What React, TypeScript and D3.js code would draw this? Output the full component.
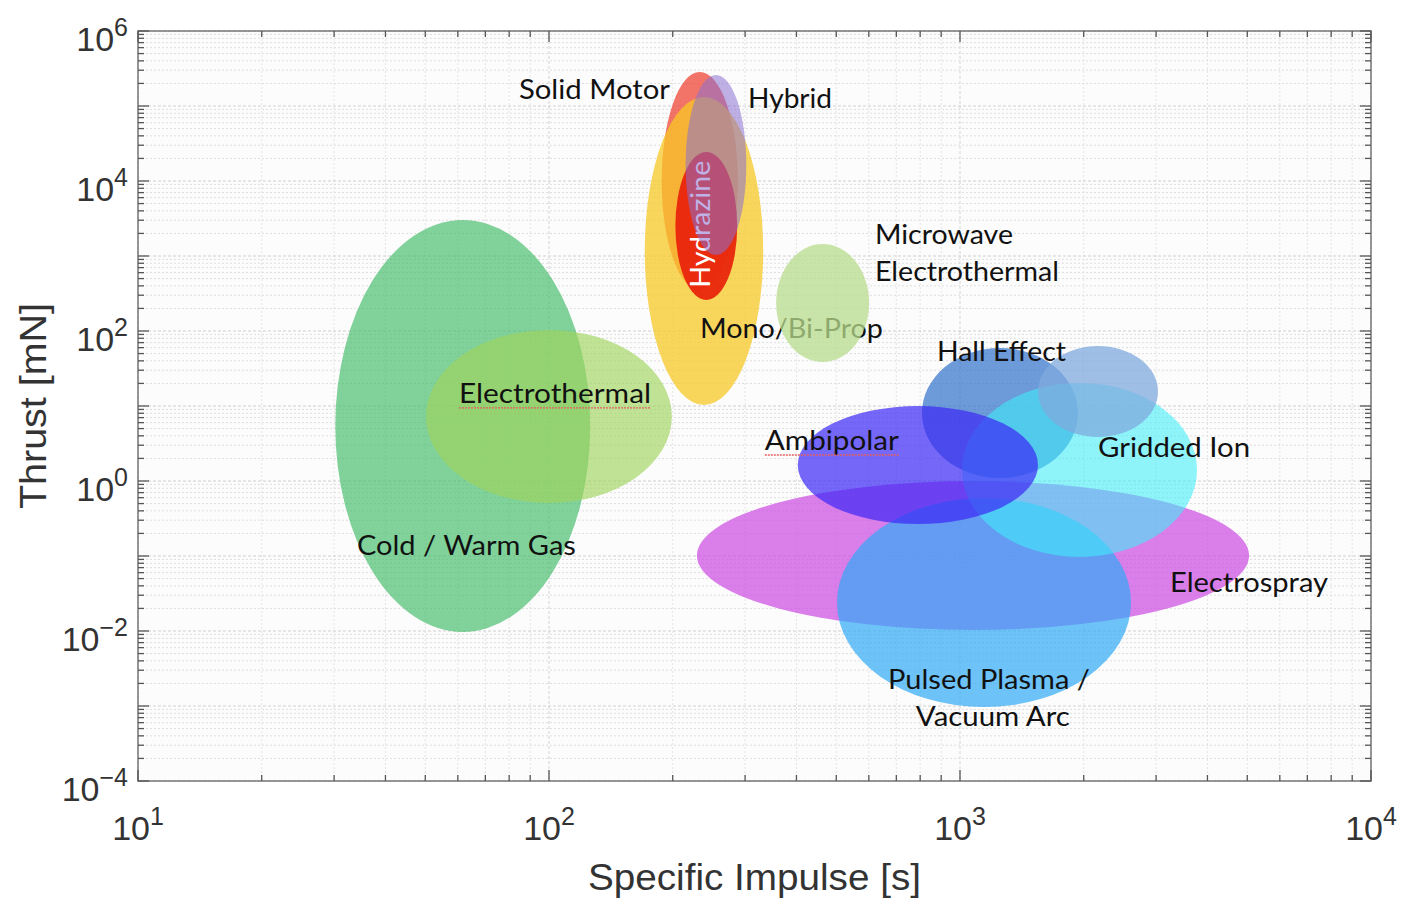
import React from "react";
import * as d3 from "d3";

const W = 1401;
const H = 898;

// Axis domains and tick exponents
const xDomain: [number, number] = [10, 10000];
const yDomain: [number, number] = [1e-4, 1e6];
const xTickExps = [1, 2, 3, 4];
const yTickExps = [-4, -2, 0, 2, 4, 6];

// Thruster regions (draw order), Isp [s] range and Thrust [mN] range
const thrusterNames = [
  "Cold / Warm Gas",
  "Electrothermal",
  "Solid Motor",
  "Mono/Bi-Prop",
  "Hydrazine",
  "Hybrid",
  "Microwave Electrothermal",
  "Electrospray",
  "Pulsed Plasma / Vacuum Arc",
  "Hall Effect",
  "Gridded Ion",
  "Ambipolar",
  "Hall Effect (high power)",
];
const ispMin = [30.2, 50.2, 188, 171, 203, 215, 357, 229, 502, 808, 1011, 403, 1548];
const ispMax = [126, 199, 288, 332, 287, 302, 601, 5050, 2607, 1936, 3773, 1548, 3032];
const thrustMin = [0.0097, 0.509, 352, 10.3, 259, 1031, 38.6, 0.0103, 0.00097, 1.1, 0.097, 0.267, 3.86];
const thrustMax = [3020, 103, 284000, 131800, 24370, 259000, 1445, 1.0, 0.593, 59.3, 20.3, 10, 63];

// Labels: text lines, anchor Isp, anchor thrust (baseline), drawn after region index
const labelTexts = [
  ["Solid Motor"],
  ["Hybrid"],
  ["Microwave", "Electrothermal"],
  ["Mono/Bi-Prop"],
  ["Hall Effect"],
  ["Electrothermal"],
  ["Ambipolar"],
  ["Gridded Ion"],
  ["Cold / Warm Gas"],
  ["Electrospray"],
  ["Pulsed Plasma /", "Vacuum Arc"],
];
const labelIsp = [84.5, 305, 621, 233, 879, 60.4, 335, 2167, 34.1, 3243, 668];
const labelThrust = [124000, 94000, 1445, 80.7, 39.8, 11, 2.59, 2.09, 0.103, 0.0331, 0.001686];
const labelLayer = [99, 99, 99, 5, 99, 99, 99, 99, 99, 99, 99];
const underlined = [false, false, false, false, false, true, true, false, false, false, false];
const secondLineIsp = [0, 0, 621, 0, 0, 0, 0, 0, 0, 0, 781];
const secondLineThrust = [0, 0, 464, 0, 0, 0, 0, 0, 0, 0, 0.000541];

const hydrazineLabel = "Hydrazine";
const hydrazineIsp = 246;
const hydrazineThrust = 2650;

// Styles / layout
const labelWidths = [151, 84, 138, 183, 129, 192, 134, 152, 219, 158, 202];
const secondLineWidths = [0, 0, 184, 0, 0, 0, 0, 0, 0, 0, 154];
const hydrazineWidth = 127;

const fills: Record<string, [string, number]> = {
  "Cold / Warm Gas": ["#3dba66", 0.65],
  "Electrothermal": ["#a0d45c", 0.65],
  "Solid Motor": ["#ee3a2a", 0.7],
  "Mono/Bi-Prop": ["#f7c825", 0.75],
  "Hydrazine": ["#e8200a", 0.92],
  "Hybrid": ["#8a6fd0", 0.55],
  "Microwave Electrothermal": ["#b8dc8c", 0.75],
  "Electrospray": ["#cc48e3", 0.7],
  "Pulsed Plasma / Vacuum Arc": ["#30aaf5", 0.7],
  "Hall Effect": ["#2a6cc8", 0.68],
  "Gridded Ion": ["#40eef8", 0.58],
  "Ambipolar": ["#3c28f5", 0.7],
  "Hall Effect (high power)": ["#7fa9dd", 0.75],
};

const margin = { left: 138, right: 1401 - 1371, top: 31, bottom: 898 - 781 };
const labelFont = "Lato, 'Open Sans', sans-serif";
const axisFont = "'Liberation Sans', Arial, sans-serif";

export default function App() {
  const x = d3.scaleLog().domain(xDomain).range([margin.left, W - margin.right]);
  const y = d3.scaleLog().domain(yDomain).range([H - margin.bottom, margin.top]);
  const [x0, x1] = x.range();
  const [y0, y1] = y.range(); // y0 bottom, y1 top

  const minorVals = (dom: [number, number]) => {
    const out: { v: number; major: boolean }[] = [];
    const e0 = Math.round(Math.log10(dom[0]));
    const e1 = Math.round(Math.log10(dom[1]));
    for (let e = e0; e <= e1; e++) {
      for (let m = 1; m <= 9; m++) {
        const v = m * Math.pow(10, e);
        if (v >= dom[0] * 0.999 && v <= dom[1] * 1.001) out.push({ v, major: m === 1 });
      }
    }
    return out;
  };
  const xv = minorVals(xDomain);
  const yv = minorVals(yDomain);

  const ellipses = thrusterNames.map((name, i) => {
    const xa = x(ispMin[i]);
    const xb = x(ispMax[i]);
    const ya = y(thrustMin[i]);
    const yb = y(thrustMax[i]);
    const [fill, op] = fills[name];
    return (
      <ellipse
        key={"e" + i}
        cx={(xa + xb) / 2}
        cy={(ya + yb) / 2}
        rx={Math.abs(xb - xa) / 2}
        ry={Math.abs(ya - yb) / 2}
        fill={fill}
        fillOpacity={op}
      />
    );
  });

  const labelEl = (li: number) => {
    const lines = labelTexts[li];
    const lx = x(labelIsp[li]);
    const ly = y(labelThrust[li]);
    return (
      <g key={"l" + li}>
        <text
          x={lx}
          y={ly}
          fontFamily={labelFont}
          fontSize={26}
          fill="#111"
          textLength={labelWidths[li]}
          lengthAdjust="spacingAndGlyphs"
        >
          {lines[0]}
        </text>
        {lines.length > 1 && (
          <text
            x={x(secondLineIsp[li])}
            y={y(secondLineThrust[li])}
            fontFamily={labelFont}
            fontSize={26}
            fill="#111"
            textLength={secondLineWidths[li]}
            lengthAdjust="spacingAndGlyphs"
          >
            {lines[1]}
          </text>
        )}
        {underlined[li] && (
          <path
            d={`M${lx},${ly + 5} L${lx + labelWidths[li]},${ly + 5}`}
            stroke="#e06060"
            strokeWidth={1.3}
            strokeDasharray="2,1"
          />
        )}
      </g>
    );
  };

  const layered: React.ReactNode[] = [];
  ellipses.forEach((el, i) => {
    layered.push(el);
    if (i === 4) {
      layered.push(
        <text
          key="hyd"
          transform={`translate(${x(hydrazineIsp)},${y(hydrazineThrust)}) rotate(-90)`}
          textAnchor="middle"
          fontFamily={labelFont}
          fontSize={26}
          fill="#ffffff"
          textLength={hydrazineWidth}
          lengthAdjust="spacingAndGlyphs"
        >
          {hydrazineLabel}
        </text>
      );
    }
    labelTexts.forEach((_, li) => {
      if (labelLayer[li] === i) layered.push(labelEl(li));
    });
  });
  labelTexts.forEach((_, li) => {
    if (labelLayer[li] === 99) layered.push(labelEl(li));
  });

  return (
    <svg width={W} height={H} style={{ position: "absolute", left: 0, top: 0, background: "#fff" }}>
      <rect x={x0} y={y1} width={x1 - x0} height={y0 - y1} fill="#fcfcfc" />
      {/* grid */}
      <g>
        {xv.map((t, i) => (
          <line
            key={"gx" + i}
            x1={x(t.v)}
            x2={x(t.v)}
            y1={y1}
            y2={y0}
            stroke={t.major ? "#d4d4d4" : "#e4e4e4"}
            strokeWidth={1}
            strokeDasharray={t.major ? "3,2" : "2,2"}
          />
        ))}
        {yv.map((t, i) => (
          <line
            key={"gy" + i}
            x1={x0}
            x2={x1}
            y1={y(t.v)}
            y2={y(t.v)}
            stroke={t.major ? "#cfcfcf" : "#dedede"}
            strokeWidth={1}
            strokeDasharray={t.major ? "3,2" : "2,2"}
          />
        ))}
      </g>
      {layered}
      {/* axes box */}
      <rect x={x0} y={y1} width={x1 - x0} height={y0 - y1} fill="none" stroke="#777" strokeWidth={1.5} />
      {/* ticks */}
      <g stroke="#555" strokeWidth={1.3}>
        {xv.map((t, i) => {
          const L = t.major ? 11 : 6;
          const px = x(t.v);
          return (
            <g key={"tx" + i}>
              <line x1={px} x2={px} y1={y0} y2={y0 - L} />
              <line x1={px} x2={px} y1={y1} y2={y1 + L} />
            </g>
          );
        })}
        {yv.map((t, i) => {
          const L = t.major ? 11 : 6;
          const py = y(t.v);
          return (
            <g key={"ty" + i}>
              <line x1={x0} x2={x0 + L} y1={py} y2={py} />
              <line x1={x1} x2={x1 - L} y1={py} y2={py} />
            </g>
          );
        })}
      </g>
      {/* tick labels */}
      <g fontFamily={axisFont} fill="#333">
        {xTickExps.map((e) => (
          <text key={"xl" + e} x={x(Math.pow(10, e))} y={y0 + 59} textAnchor="middle" fontSize={34}>
            10
            <tspan dy={-15} fontSize={25}>
              {e < 0 ? "\u2212" + Math.abs(e) : String(e)}
            </tspan>
          </text>
        ))}
        {yTickExps.map((e) => (
          <text key={"yl" + e} x={128} y={y(Math.pow(10, e)) + 20} textAnchor="end" fontSize={34}>
            10
            <tspan dy={-15} fontSize={25}>
              {e < 0 ? "\u2212" + Math.abs(e) : String(e)}
            </tspan>
          </text>
        ))}
      </g>
      {/* axis titles */}
      <text
        x={(x0 + x1) / 2}
        y={890}
        textAnchor="middle"
        fontFamily={axisFont}
        fontSize={36}
        fill="#333"
        textLength={333}
        lengthAdjust="spacingAndGlyphs"
      >
        Specific Impulse [s]
      </text>
      <text
        transform={`translate(46,${(y0 + y1) / 2}) rotate(-90)`}
        textAnchor="middle"
        fontFamily={axisFont}
        fontSize={36}
        fill="#333"
        textLength={206}
        lengthAdjust="spacingAndGlyphs"
      >
        Thrust [mN]
      </text>
    </svg>
  );
}
